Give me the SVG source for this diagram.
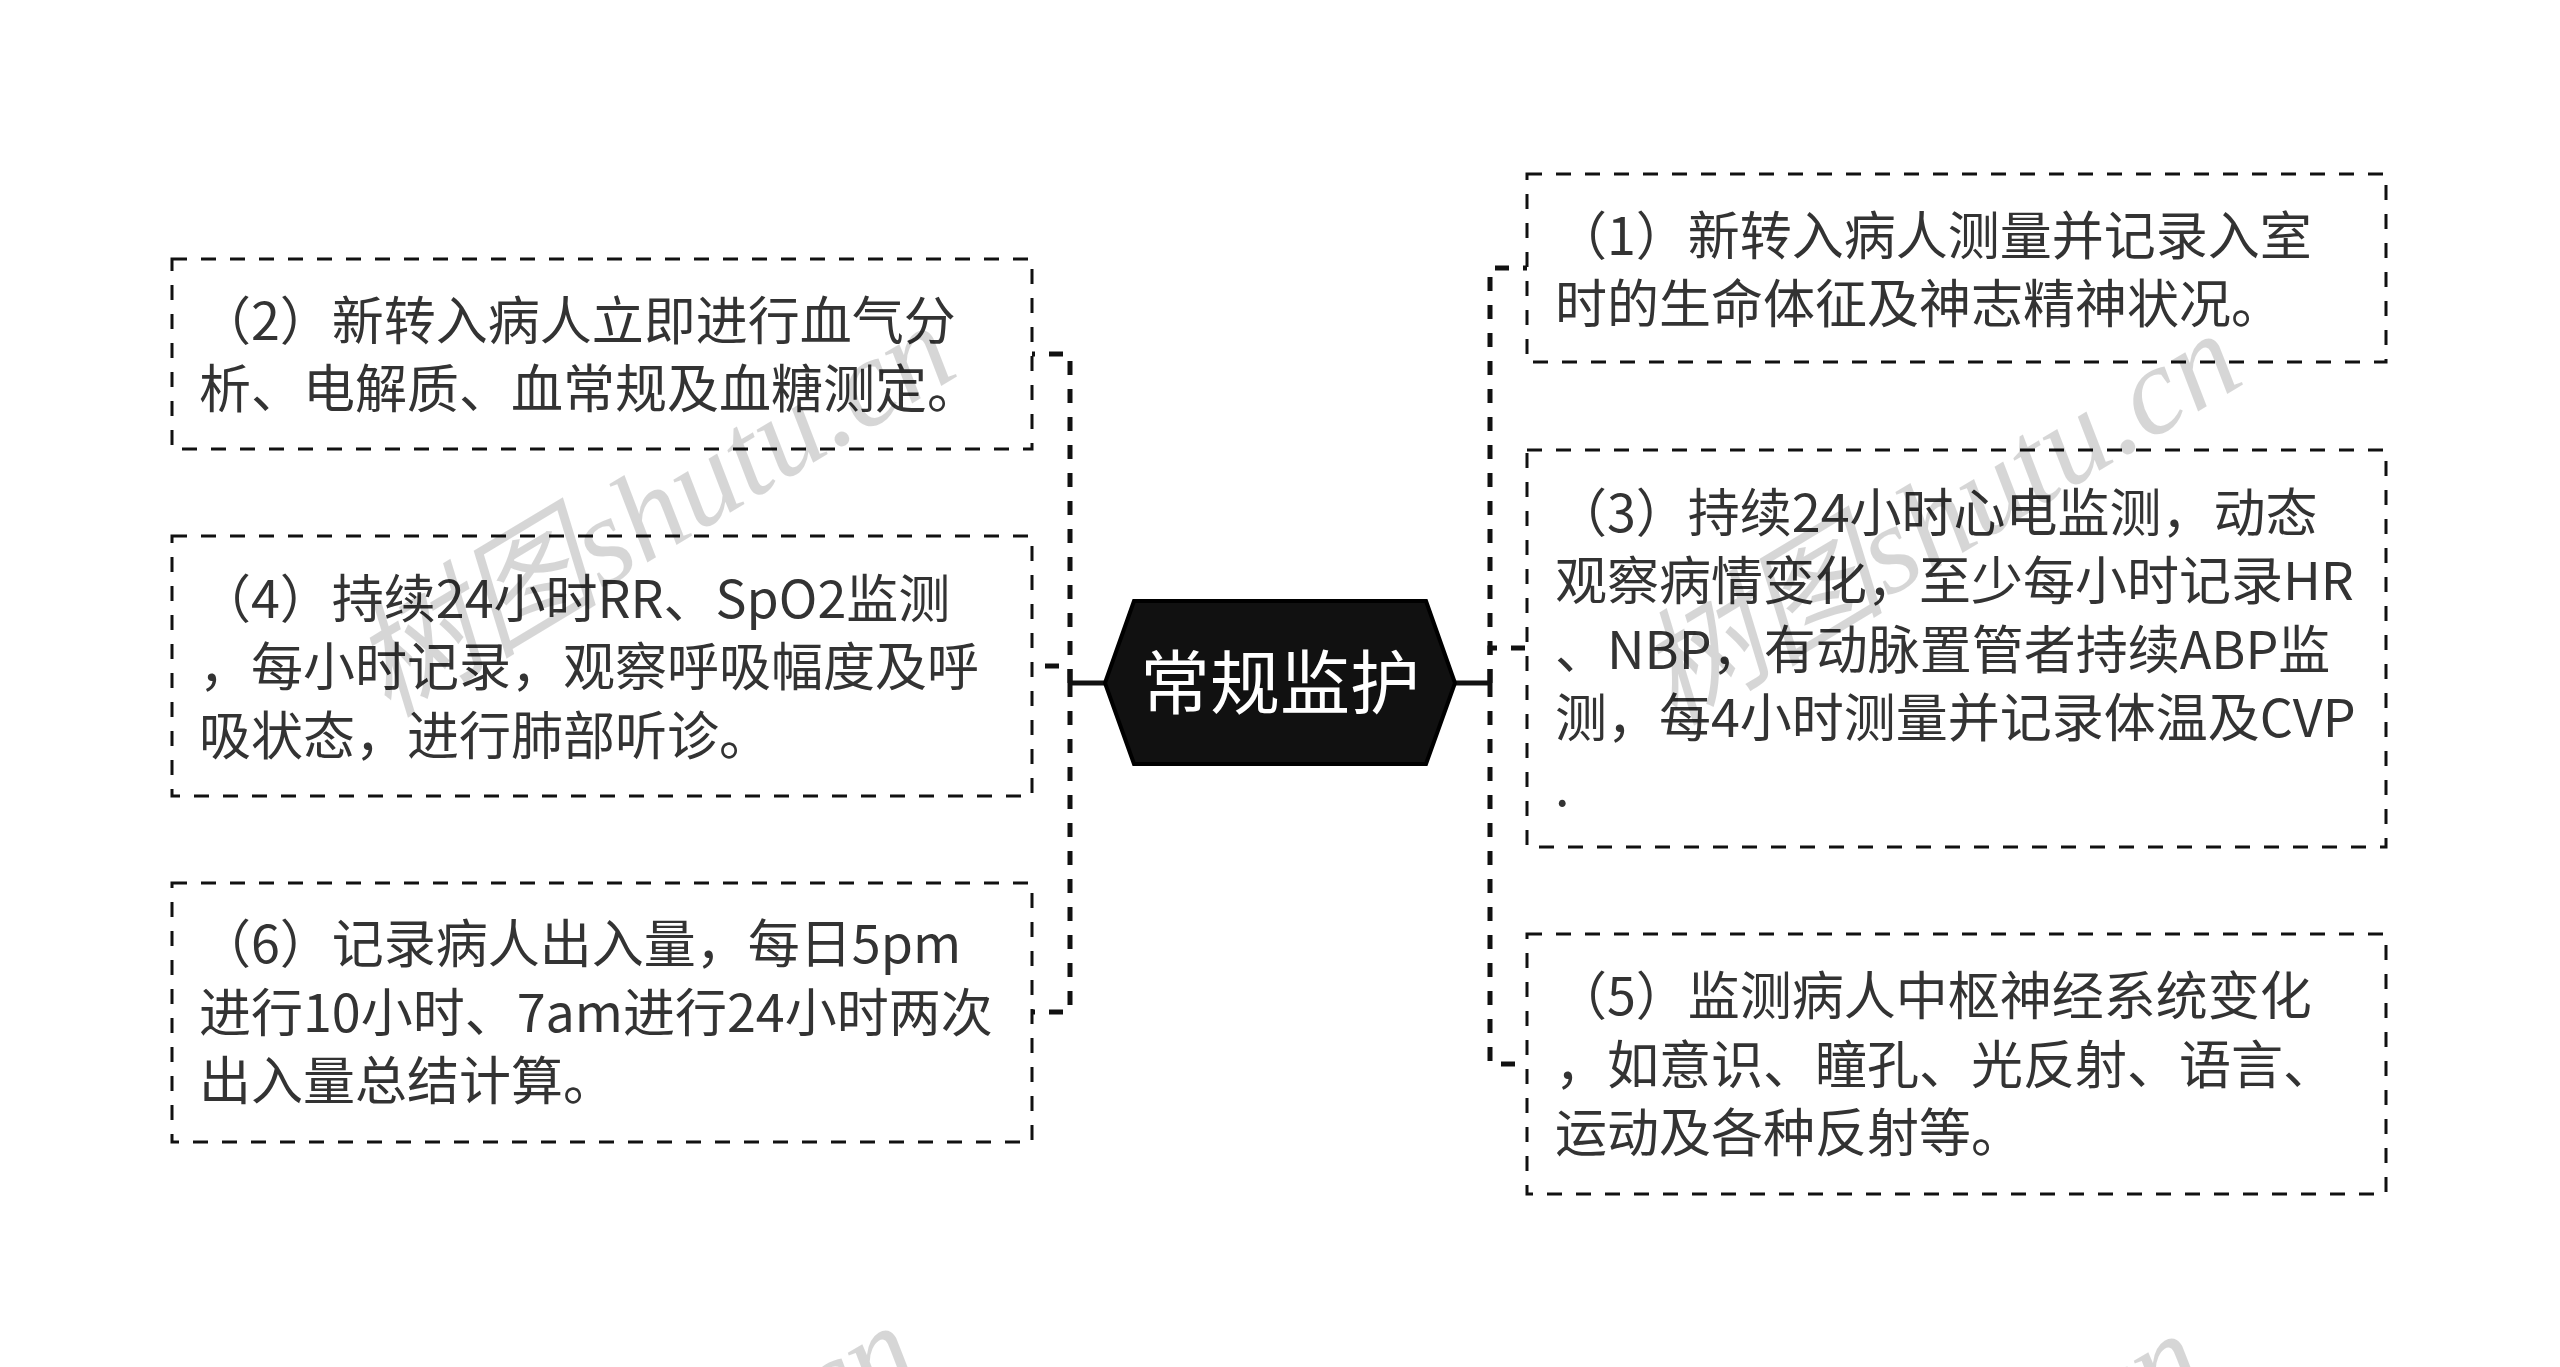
<svg xmlns="http://www.w3.org/2000/svg" width="2560" height="1367" viewBox="0 0 2560 1367">
<style>
.box{fill:#fff;stroke:#111;stroke-width:3;stroke-dasharray:15 14}
.t{font-family:"Noto Sans CJK SC","Noto Sans",sans-serif;font-size:52px;fill:#333}
.ct{font-family:"Noto Sans CJK SC","Noto Sans",sans-serif;font-size:70px;fill:#fff}
.solid{fill:none;stroke:#111;stroke-width:5}
.dash{fill:none;stroke:#111;stroke-width:5;stroke-dasharray:14 14}
.wm{font-family:"Liberation Serif","Noto Sans CJK SC",serif;font-style:italic;font-size:125px;fill:#000;fill-opacity:0.16}
</style>
<rect width="2560" height="1367" fill="#fff"/>
<g id="connectors">
<path class="solid" d="M1105 683H1070"/>
<path class="dash" d="M1070 683V354H1032"/>
<path class="dash" d="M1070 683V666H1032"/>
<path class="dash" d="M1070 683V1012H1032"/>
<path class="solid" d="M1455 683H1490"/>
<path class="dash" d="M1490 683V268H1527"/>
<path class="dash" d="M1490 683V648H1527"/>
<path class="dash" d="M1490 683V1064H1527"/>
</g>
<g id="center">
<polygon points="1105,683 1134,601 1426,601 1455,683 1426,764 1134,764" fill="#111" stroke="#000" stroke-width="4"/>
<text class="ct" x="1280" y="709" text-anchor="middle">常规监护</text>
</g>
<g id="n1">
<rect class="box" x="1527" y="174" width="859" height="188"/>
<text class="t" x="1555" y="255">（1）新转入病人测量并记录入室</text>
<text class="t" x="1555" y="323">时的生命体征及神志精神状况。</text>
</g>
<g id="n2">
<rect class="box" x="172" y="259" width="860" height="190"/>
<text class="t" x="199" y="340">（2）新转入病人立即进行血气分</text>
<text class="t" x="199" y="408">析、电解质、血常规及血糖测定。</text>
</g>
<g id="n3">
<rect class="box" x="1527" y="450" width="859" height="397"/>
<text class="t" x="1555" y="532">（3）持续24小时心电监测，动态</text>
<text class="t" x="1555" y="600">观察病情变化，至少每小时记录HR</text>
<text class="t" x="1555" y="669">、NBP，有动脉置管者持续ABP监</text>
<text class="t" x="1555" y="737">测，每4小时测量并记录体温及CVP</text>
<text class="t" x="1555" y="806">.</text>
</g>
<g id="n4">
<rect class="box" x="172" y="536" width="860" height="260"/>
<text class="t" x="199" y="618">（4）持续24小时RR、SpO2监测</text>
<text class="t" x="199" y="686">，每小时记录，观察呼吸幅度及呼</text>
<text class="t" x="199" y="755">吸状态，进行肺部听诊。</text>
</g>
<g id="n5">
<rect class="box" x="1527" y="934" width="859" height="260"/>
<text class="t" x="1555" y="1015">（5）监测病人中枢神经系统变化</text>
<text class="t" x="1555" y="1084">，如意识、瞳孔、光反射、语言、</text>
<text class="t" x="1555" y="1152">运动及各种反射等。</text>
</g>
<g id="n6">
<rect class="box" x="172" y="883" width="860" height="259"/>
<text class="t" x="199" y="963">（6）记录病人出入量，每日5pm</text>
<text class="t" x="199" y="1032">进行10小时、7am进行24小时两次</text>
<text class="t" x="199" y="1100">出入量总结计算。</text>
</g>
<g id="watermark">
<text class="wm" x="653" y="510" text-anchor="middle" dominant-baseline="central" transform="rotate(-31 653 510)">树图shutu.cn</text>
<text class="wm" x="1939" y="518" text-anchor="middle" dominant-baseline="central" transform="rotate(-31 1939 518)">树图shutu.cn</text>
<text class="wm" x="616" y="1510" text-anchor="middle" dominant-baseline="central" transform="rotate(-31 616 1510)">树图shutu.cn</text>
<text class="wm" x="1902" y="1518" text-anchor="middle" dominant-baseline="central" transform="rotate(-31 1902 1518)">树图shutu.cn</text>
</g>
</svg>
